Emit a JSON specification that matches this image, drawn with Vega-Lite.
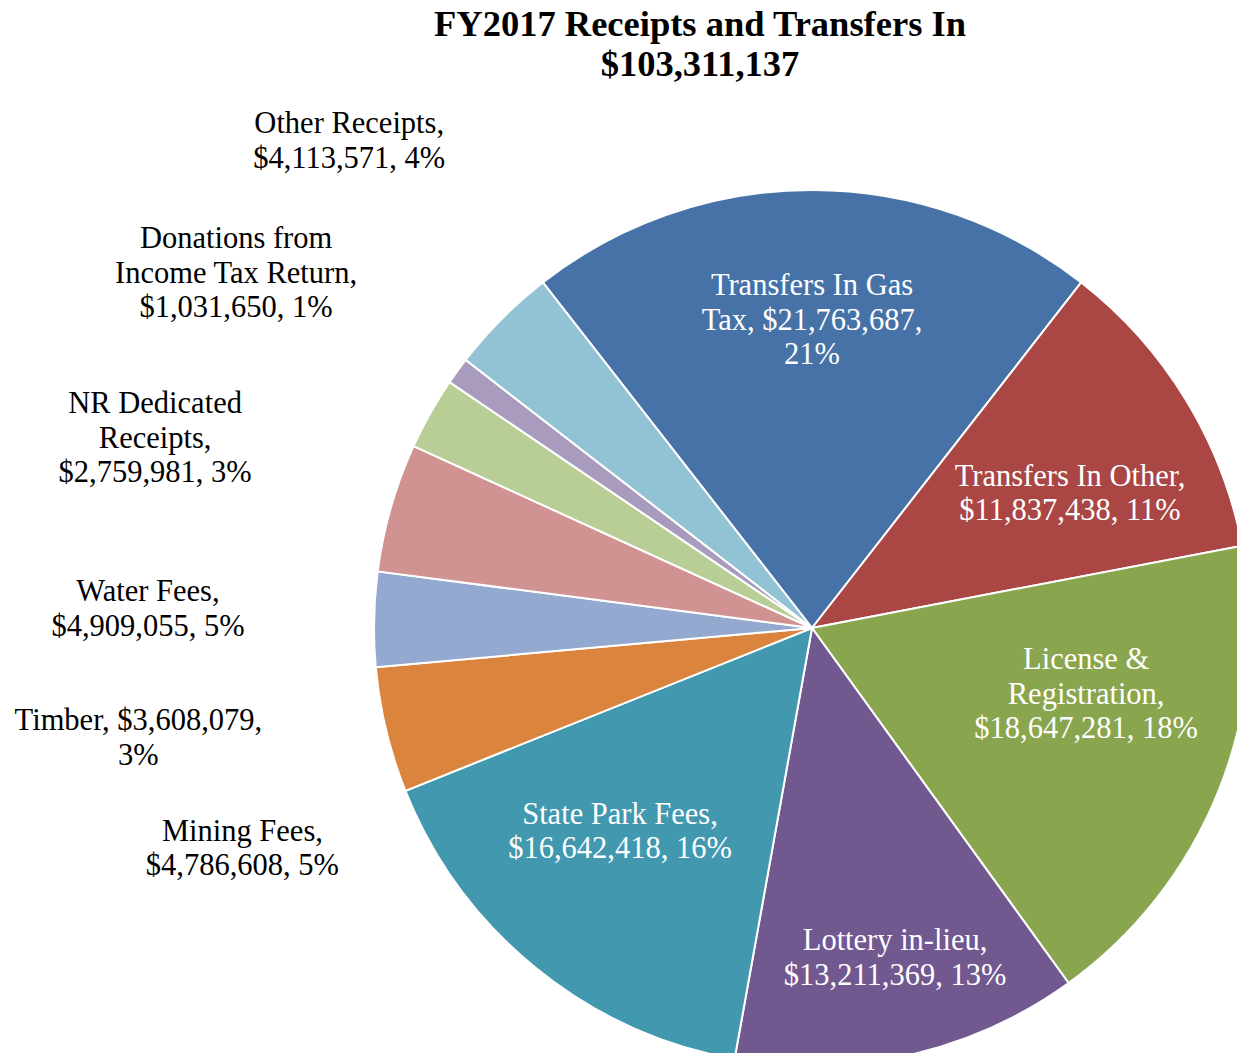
{
  "$schema": "https://vega.github.io/schema/vega-lite/v6.json",
  "width": 850,
  "height": 850,
  "autosize": {"type": "none"},
  "padding": {"left": 387, "top": 203, "right": 0, "bottom": 0},
  "background": "white",
  "title": {
    "text": ["FY2017 Receipts and Transfers In", "$103,311,137"],
    "font": "Liberation Serif",
    "fontSize": 36.5,
    "fontWeight": "bold",
    "color": "black",
    "anchor": "middle",
    "dx": -112,
    "offset": 26,
    "lineHeight": 40
  },
  "config": {
    "view": {"stroke": null},
    "text": {"font": "Liberation Serif", "fontSize": 30.5, "lineHeight": 34.5, "align": "center", "baseline": "middle", "lineBreak": "\n"}
  },
  "data": {
    "values": [
      {"idx": 1, "name": "Transfers In Gas Tax", "value": 21763687, "label": "Transfers In Gas\nTax, $21,763,687,\n21%"},
      {"idx": 2, "name": "Transfers In Other", "value": 11837438, "label": "Transfers In Other,\n$11,837,438, 11%"},
      {"idx": 3, "name": "License & Registration", "value": 18647281, "label": "License &\nRegistration,\n$18,647,281, 18%"},
      {"idx": 4, "name": "Lottery in-lieu", "value": 13211369, "label": "Lottery in-lieu,\n$13,211,369, 13%"},
      {"idx": 5, "name": "State Park Fees", "value": 16642418, "label": "State Park Fees,\n$16,642,418, 16%"},
      {"idx": 6, "name": "Mining Fees", "value": 4786608, "label": "Mining Fees,\n$4,786,608, 5%"},
      {"idx": 7, "name": "Timber", "value": 3608079, "label": "Timber, $3,608,079,\n3%"},
      {"idx": 8, "name": "Water Fees", "value": 4909055, "label": "Water Fees,\n$4,909,055, 5%"},
      {"idx": 9, "name": "NR Dedicated Receipts", "value": 2759981, "label": "NR Dedicated\nReceipts,\n$2,759,981, 3%"},
      {"idx": 10, "name": "Donations from Income Tax Return", "value": 1031650, "label": "Donations from\nIncome Tax Return,\n$1,031,650, 1%"},
      {"idx": 11, "name": "Other Receipts", "value": 4113571, "label": "Other Receipts,\n$4,113,571, 4%"}
    ]
  },
  "transform": [
    {"stack": "value", "groupby": [], "sort": [{"field": "idx", "order": "ascending"}], "as": ["v0", "v1"]}
  ],
  "layer": [
    {
      "mark": {"type": "arc", "outerRadius": 438, "stroke": "white", "strokeWidth": 2},
      "encoding": {
        "theta": {"field": "v0", "type": "quantitative", "scale": {"domain": [0, 103311137], "range": [-0.66181, 5.62138], "nice": false}},
        "theta2": {"field": "v1"},
        "color": {
          "field": "name", "type": "nominal", "legend": null,
          "scale": {
            "domain": ["Transfers In Gas Tax", "Transfers In Other", "License & Registration", "Lottery in-lieu", "State Park Fees", "Mining Fees", "Timber", "Water Fees", "NR Dedicated Receipts", "Donations from Income Tax Return", "Other Receipts"],
            "range": ["#4672A7", "#AA4643", "#89A54E", "#71588F", "#4198AF", "#DB843D", "#93A9CF", "#D19392", "#B9CD96", "#A99BBD", "#92C3D4"]
          }
        }
      }
    },
    {"transform": [{"filter": "datum.idx == 1"}], "mark": {"type": "text", "radius": 342, "thetaOffset": 0.6618, "color": "white"}, "encoding": {"theta": {"field": "v0", "type": "quantitative"}, "text": {"field": "label"}}},
    {"transform": [{"filter": "datum.idx == 2"}], "mark": {"type": "text", "radius": 299, "thetaOffset": 0.3794, "color": "white"}, "encoding": {"theta": {"field": "v0", "type": "quantitative"}, "text": {"field": "label"}}},
    {"transform": [{"filter": "datum.idx == 3"}], "mark": {"type": "text", "radius": 276, "thetaOffset": 0.3053, "color": "white"}, "encoding": {"theta": {"field": "v0", "type": "quantitative"}, "text": {"field": "label"}}},
    {"transform": [{"filter": "datum.idx == 4"}], "mark": {"type": "text", "radius": 324, "thetaOffset": 0.3665, "color": "white"}, "encoding": {"theta": {"field": "v0", "type": "quantitative"}, "text": {"field": "label"}}},
    {"transform": [{"filter": "datum.idx == 5"}], "mark": {"type": "text", "radius": 268, "thetaOffset": 0.6208, "color": "white"}, "encoding": {"theta": {"field": "v0", "type": "quantitative"}, "text": {"field": "label"}}},
    {"transform": [{"filter": "datum.idx == 6"}], "mark": {"type": "text", "radius": 605, "thetaOffset": 0.0372, "color": "black"}, "encoding": {"theta": {"field": "v0", "type": "quantitative"}, "text": {"field": "label"}}},
    {"transform": [{"filter": "datum.idx == 7"}], "mark": {"type": "text", "radius": 680, "thetaOffset": -0.0475, "color": "black"}, "encoding": {"theta": {"field": "v0", "type": "quantitative"}, "text": {"field": "label"}}},
    {"transform": [{"filter": "datum.idx == 8"}], "mark": {"type": "text", "radius": 665, "thetaOffset": -0.0756, "color": "black"}, "encoding": {"theta": {"field": "v0", "type": "quantitative"}, "text": {"field": "label"}}},
    {"transform": [{"filter": "datum.idx == 9"}], "mark": {"type": "text", "radius": 694, "thetaOffset": -0.0997, "color": "black"}, "encoding": {"theta": {"field": "v0", "type": "quantitative"}, "text": {"field": "label"}}},
    {"transform": [{"filter": "datum.idx == 10"}], "mark": {"type": "text", "radius": 695, "thetaOffset": -0.0021, "color": "black"}, "encoding": {"theta": {"field": "v0", "type": "quantitative"}, "text": {"field": "label"}}},
    {"transform": [{"filter": "datum.idx == 11"}], "mark": {"type": "text", "radius": 684, "thetaOffset": 0.1689, "color": "black"}, "encoding": {"theta": {"field": "v0", "type": "quantitative"}, "text": {"field": "label"}}}
  ]
}
